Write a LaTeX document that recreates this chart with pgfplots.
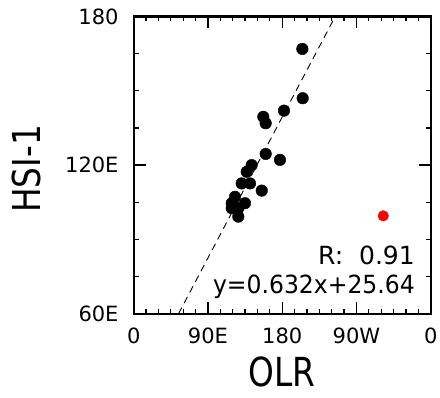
\documentclass[border=0pt]{standalone}
\usepackage{fontspec}
\setmainfont{DejaVu Sans}
\usepackage{graphicx}
\usepackage{pgfplots}
\pgfplotsset{compat=1.18}
\begin{document}
\begin{tikzpicture}
\begin{axis}[
  name=ax, at={(0,0)}, anchor=south west,
  scale only axis, width=297pt, height=297.2pt,
  xmin=0, xmax=360, ymin=60, ymax=180,
  xtick={0,90,180,270,360},
  xticklabels={\mbox{0},\mbox{90E},\mbox{180},\mbox{90W},\mbox{0}},
  ytick={60,120,180},
  yticklabels={\mbox{60E},\mbox{120E},\mbox{180}},
  minor x tick num=5, minor y tick num=3,
  tick align=inside, major tick length=12pt, minor tick length=5pt,
  every tick/.style={black, line width=1.3pt},
  axis line style={line width=2.2pt},
  ticklabel style={font=\fontsize{21}{21}\selectfont, inner sep=0pt},
  xticklabel style={yshift=-14pt},
  yticklabel style={xshift=-15pt},
  xlabel={\scalebox{0.82}[1]{OLR}},
  ylabel={\scalebox{0.85}[1]{HSI-1}},
  xlabel style={at={(axis description cs:0.5,-0.195)}, anchor=center, inner sep=0pt, font=\fontsize{40}{40}\selectfont},
  ylabel style={at={(axis description cs:-0.3626,0.487)}, anchor=center, inner sep=0pt, font=\fontsize{38.5}{38.5}\selectfont},
]
\addplot[black, line width=0.9pt, dash pattern=on 7pt off 5pt] coordinates {(54.37,60) (244.24,180)};
\addplot[only marks, mark=*, mark size=5.8pt, black, mark options={fill=black, draw=black}] table {
x y
204.4 166.9
204.8 147.0
182.2 142.0
157.1 139.5
160.0 136.9
160.0 124.5
177.3 122.1
143.0 120.0
137.0 117.3
130.9 112.6
141.0 112.6
155.2 109.7
122.8 107.2
118.8 104.6
134.9 104.6
118.8 102.6
126.8 102.6
126.8 99.2
};
\addplot[only marks, mark=*, mark size=5.3pt, red, mark options={fill=red, draw=red}] coordinates {(302.5,99.5)};
\node[anchor=base east, inner sep=0pt, font=\fontsize{25}{25}\selectfont] at (axis cs:341,79.7) {R:\ \ 0.91};
\node[anchor=base east, inner sep=0pt, font=\fontsize{25}{25}\selectfont] at (axis cs:341,68.2) {\scalebox{0.94}[1]{y=0.632x+25.64}};
\end{axis}
\pgfresetboundingbox
\path (ax.south west) ++(-133.7pt,-84.3pt) rectangle ++(440pt,398pt);
\end{tikzpicture}
\end{document}
